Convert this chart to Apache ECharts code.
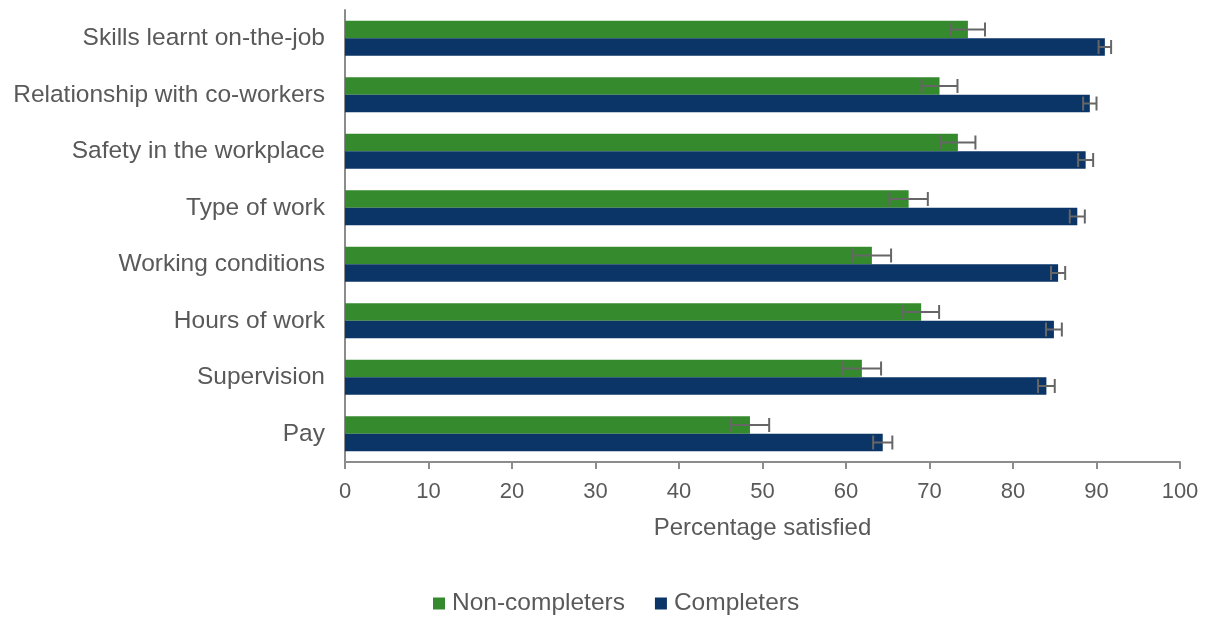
<!DOCTYPE html>
<html><head><meta charset="utf-8">
<script src="https://cdn.jsdelivr.net/npm/echarts@6/dist/echarts.min.js"></script>
<style>html,body{margin:0;padding:0;background:#fff}#c{width:1209px;height:617px}</style>
</head><body><div id="c"></div>
<script>
const categories = ['Skills learnt on-the-job','Relationship with co-workers','Safety in the workplace','Type of work','Working conditions','Hours of work','Supervision','Pay'];
const nonCompleters = [74.6, 71.2, 73.4, 67.5, 63.1, 69.0, 61.9, 48.5];
const nonCompletersErr = [2.05, 2.15, 2.1, 2.3, 2.3, 2.15, 2.3, 2.3];
const completers = [91.0, 89.2, 88.7, 87.7, 85.4, 84.9, 84.0, 64.4];
const completersErr = [0.75, 0.8, 0.9, 0.9, 0.85, 0.95, 1.0, 1.15];
const xTicks = [0,10,20,30,40,50,60,70,80,90,100];

const GREEN = '#348a2d', BLUE = '#0a3566', ERR = '#666666';
const GAP = 0.38;

function errData(vals, errs){ return vals.map((v,i)=>[i, v-errs[i], v+errs[i]]); }
function errSeries(name, vals, errs, sign){
  return {
    type:'custom', name: name+'-err', silent:true, z:5,
    data: errData(vals, errs),
    encode:{ y:0, x:[1,2] },
    renderItem: function(params, api){
      const c = api.value(0);
      const lo = api.coord([api.value(1), c]);
      const hi = api.coord([api.value(2), c]);
      const band = api.size([0,1])[1];
      const barW = band*(1-GAP)/2;
      const y = lo[1] + sign*barW/2;
      const h = 7;
      const st = {stroke: ERR, lineWidth: 2};
      return {type:'group', children:[
        {type:'line', shape:{x1:lo[0],y1:y,x2:hi[0],y2:y}, style:st},
        {type:'line', shape:{x1:lo[0],y1:y-h,x2:lo[0],y2:y+h}, style:st},
        {type:'line', shape:{x1:hi[0],y1:y-h,x2:hi[0],y2:y+h}, style:st}
      ]};
    }
  };
}

const chart = echarts.init(document.getElementById('c'));
chart.setOption({
  animation:false,
  textStyle:{fontFamily:'Liberation Sans, Arial, sans-serif'},
  grid:{left:345, right:29, top:10, bottom:155},
  legend:{
    data:['Non-completers','Completers'], top:586, left:428,
    itemWidth:12, itemHeight:12, itemGap:30, icon:'rect',
    textStyle:{fontSize:24.5, color:'#595959', padding:[0,0,0,2]}
  },
  xAxis:{
    type:'value', min:0, max:100, interval:10,
    name:'Percentage satisfied', nameLocation:'middle', nameGap:54,
    nameTextStyle:{fontSize:24, color:'#595959'},
    axisLine:{show:true, lineStyle:{color:'#8c8c8c', width:2}},
    axisTick:{show:true, length:7, lineStyle:{color:'#8c8c8c', width:2}},
    axisLabel:{fontSize:22, color:'#595959', margin:19},
    splitLine:{show:false}
  },
  yAxis:{
    type:'category', data:categories, inverse:true,
    axisLine:{show:true, lineStyle:{color:'#8c8c8c', width:2}},
    axisTick:{show:false},
    axisLabel:{fontSize:24.5, color:'#595959', margin:20}
  },
  series:[
    {type:'bar', name:'Non-completers', data:nonCompleters, itemStyle:{color:GREEN}, barGap:'0%', barCategoryGap:(GAP*100)+'%'},
    {type:'bar', name:'Completers', data:completers, itemStyle:{color:BLUE}, barGap:'0%', barCategoryGap:(GAP*100)+'%'},
    errSeries('Non-completers', nonCompleters, nonCompletersErr, -1),
    errSeries('Completers', completers, completersErr, 1)
  ]
});
</script></body></html>
